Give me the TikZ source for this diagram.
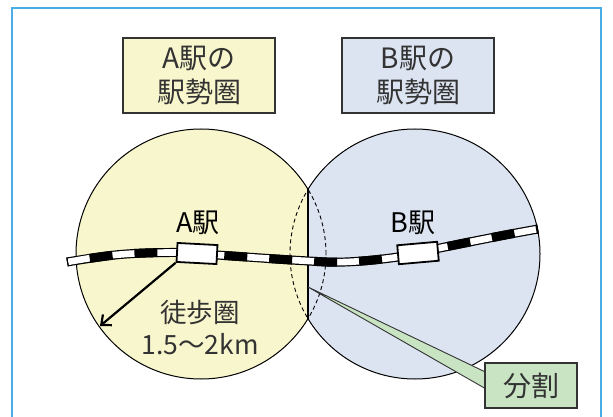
\documentclass[tikz,border=0pt]{standalone}
\usepackage{fontspec}
\setmainfont{Noto Sans CJK JP}
\usetikzlibrary{arrows.meta,calc}
\definecolor{ayel}{HTML}{F8F6CC}
\definecolor{bblue}{HTML}{DCE3F1}
\definecolor{cgreen}{HTML}{C9E4C2}
\definecolor{frameblue}{HTML}{4AAEE6}
\definecolor{ink}{HTML}{333333}
\pgfdeclarelayer{bg}
\pgfdeclarelayer{mid}
\pgfsetlayers{bg,mid,main}
\begin{document}
\begin{tikzpicture}[x=1pt,y=-1pt,
  labelbox/.style={draw=ink, line width=1.3pt, minimum width=152pt, minimum height=75pt,
    align=center, text=ink, inner sep=0pt, font=\fontsize{28}{34}\selectfont},
  stationbox/.style={draw=black, line width=1.8pt, fill=white, minimum width=40pt,
    minimum height=19pt, inner sep=0pt},
  stationlabel/.style={text=black, font=\fontsize{27}{27}\selectfont},
  areatext/.style={text=ink, font=\fontsize{26.5}{26.5}\selectfont},
  calloutbox/.style={draw=ink, fill=cgreen, line width=1.3pt, minimum width=92pt,
    minimum height=45pt, text=ink, font=\fontsize{28}{28}\selectfont}]
\useasboundingbox (0,0) rectangle (613,417);
\begin{pgfonlayer}{bg}
\fill[white] (0,0) rectangle (613,417);
\coordinate (ca) at (201,254);
\coordinate (cb) at (415,254);
\fill[ayel] (ca) circle[radius=125pt];
\fill[bblue] (cb) circle[radius=125pt];
\begin{scope}
  \clip (0,0) rectangle (308,417);
  \fill[ayel] (ca) circle[radius=125pt];
  \draw[line width=1pt] (ca) circle[radius=125pt];
  \draw[line width=0.9pt, dash pattern=on 4pt off 3pt] (cb) circle[radius=125pt];
\end{scope}
\begin{scope}
  \clip (308,0) rectangle (613,417);
  \draw[line width=1pt] (cb) circle[radius=125pt];
  \draw[line width=0.9pt, dash pattern=on 4pt off 3pt] (ca) circle[radius=125pt];
\end{scope}
\coordinate (ltop) at (308,189.4);
\coordinate (lbot) at (308,318.6);
\draw[line width=1.2pt] (ltop) -- (lbot);
% railway track
\def\trackpts{(67,262) (120,254.5) (176,252.5) (217,255) (300,260.5) (345,262) (398,257) (440,248) (500,236) (538,229)}
\draw[line width=9pt, black] plot[smooth, tension=0.6] coordinates {\trackpts};
\draw[line width=6.6pt, white, shorten <=1.2pt, shorten >=1.2pt] plot[smooth, tension=0.6] coordinates {\trackpts};
\draw[line width=9pt, black, dash pattern=on 23pt off 22pt, dash phase=22pt] plot[smooth, tension=0.6] coordinates {\trackpts};
\end{pgfonlayer}
% frame
\draw[frameblue, line width=1.6pt] (12,417) -- (12,8) -- (601,8) -- (601,417);
% top boxes
\node[labelbox, fill=ayel] (ba) at (199,75.5) {A駅の\\駅勢圏};
\node[labelbox, fill=bblue] (bb) at (418,75.5) {B駅の\\駅勢圏};
% stations
\node[stationbox, rotate=-3] (sa) at (197,253.5) {};
\node[stationbox, rotate=5] (sb) at (418,253) {};
\node[stationlabel] (la) at (198,223) {A駅};
\node[stationlabel] (lb) at (413,223) {B駅};
% walking radius
\coordinate (atip) at (100,326);
\draw[line width=2.2pt, -{Straight Barb[length=8pt,width=14pt]}] (sa.south west) -- (atip);
\node[areatext] (walk) at (200,313) {徒歩圏};
\node[areatext] (dist) at (200,344) {1.5～2km};
% callout
\node[calloutbox] (div) at (531,385.5) {分割};
\coordinate (dtip) at (308,287);
\begin{pgfonlayer}{mid}
\filldraw[fill=cgreen, draw=ink, line width=0.9pt]
  ($(div.west)+(0,-14)$) -- (dtip) -- ($(div.west)+(0,2.5)$);
\end{pgfonlayer}
\end{tikzpicture}
\end{document}
